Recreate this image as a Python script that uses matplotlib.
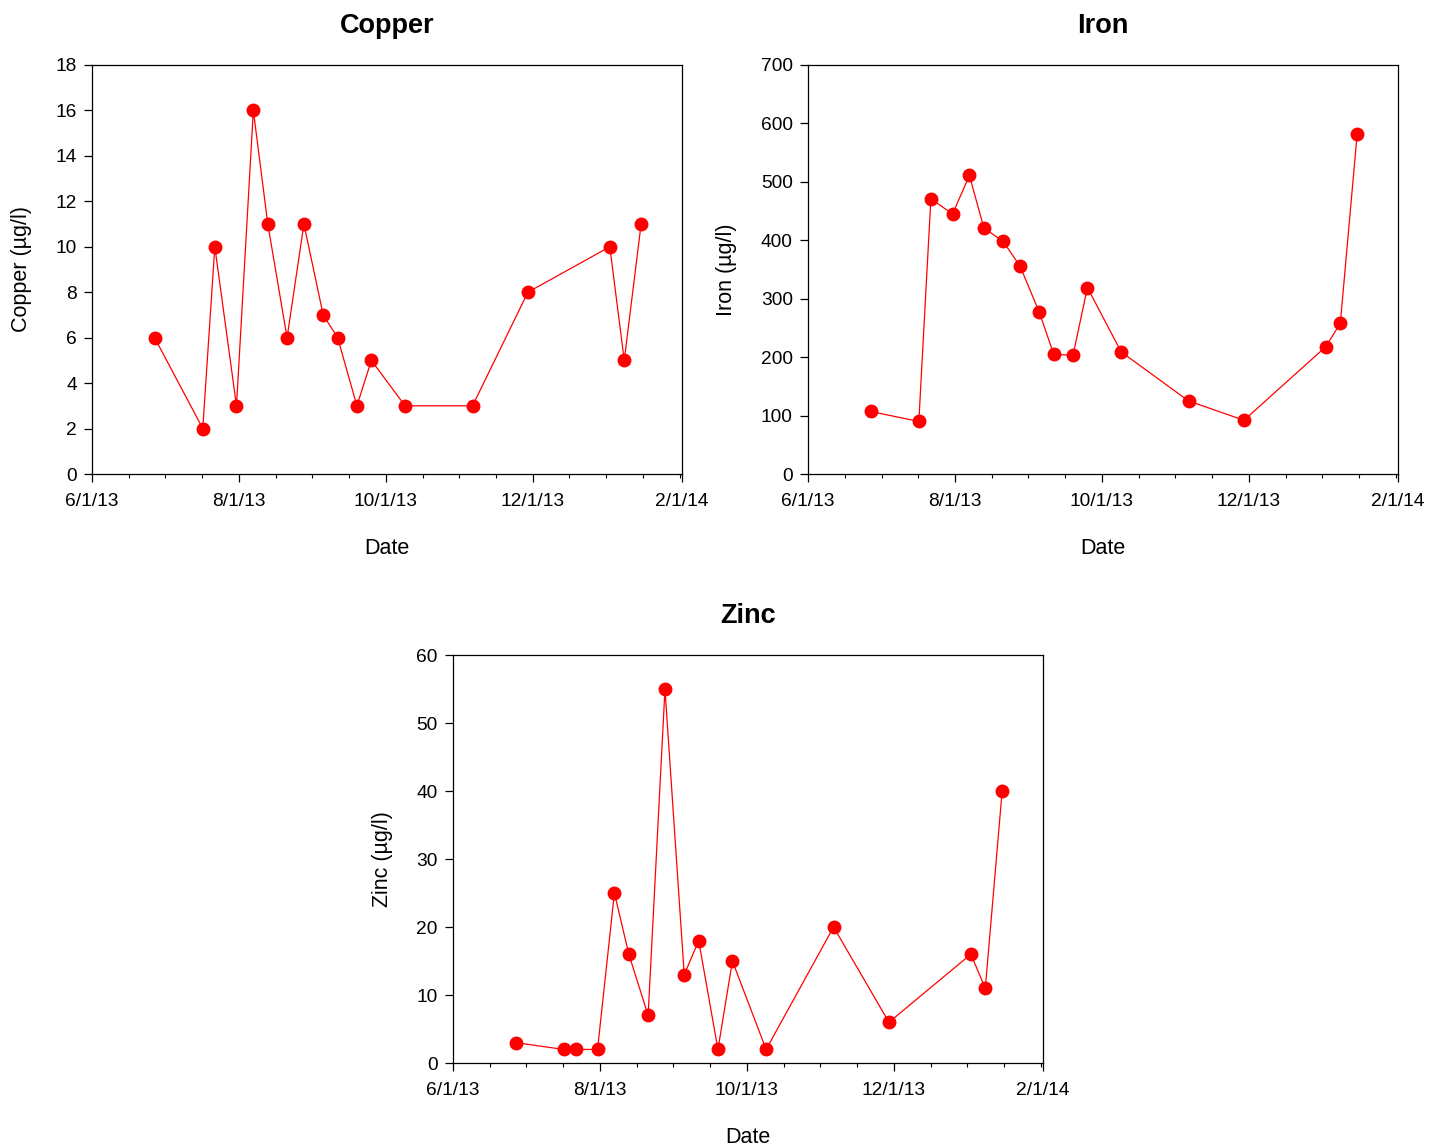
import matplotlib
matplotlib.use("Agg")
import matplotlib.pyplot as plt
import matplotlib.dates as mdates
from matplotlib.ticker import AutoMinorLocator, FuncFormatter, MultipleLocator
import datetime as dt

dates = ["2013-06-27", "2013-07-17", "2013-07-22", "2013-07-31", "2013-08-07",
         "2013-08-13", "2013-08-21", "2013-08-28", "2013-09-05", "2013-09-11",
         "2013-09-19", "2013-09-25", "2013-10-09", "2013-11-06", "2013-11-29",
         "2014-01-02", "2014-01-08", "2014-01-15"]
copper = [6, 2, 10, 3, 16, 11, 6, 11, 7, 6, 3, 5, 3, 3, 8, 10, 5, 11]
iron = [107, 90, 471, 445, 511, 421, 398, 356, 277, 205, 203, 319, 209, 125, 92, 218, 258, 582]
zinc = [3, 2, 2, 2, 25, 16, 7, 55, 13, 18, 2, 15, 2, 20, 6, 16, 11, 40]
x_ticks = ["2013-06-01", "2013-08-01", "2013-10-01", "2013-12-01", "2014-02-01"]

plt.rcParams['font.family'] = ['Liberation Sans', 'DejaVu Sans']

xd = [dt.datetime.strptime(d, "%Y-%m-%d") for d in dates]
xt = [dt.datetime.strptime(d, "%Y-%m-%d") for d in x_ticks]

fig = plt.figure(figsize=(14.35, 11.48), dpi=100)

def fmt(v, pos):
    d = mdates.num2date(v)
    return f"{d.month}/{d.day}/{d.strftime('%y')}"

def panel(rect, y, title, ylabel, ymax, ystep):
    ax = fig.add_axes(rect)
    ax.plot(xd, y, color='#ff0000', lw=0.9, marker='o', ms=9,
            markerfacecolor='#ff0000', markeredgecolor='#ff0000')
    ax.set_xlim(xt[0], xt[-1])
    ax.set_ylim(0, ymax)
    ax.set_xticks(xt)
    ax.xaxis.set_major_formatter(FuncFormatter(fmt))
    ax.xaxis.set_minor_locator(AutoMinorLocator(4))
    ax.yaxis.set_major_locator(MultipleLocator(ystep))
    ax.tick_params(axis='both', which='major', direction='out', length=6,
                   width=0.9, labelsize=13.8, top=False, right=False)
    ax.tick_params(axis='x', which='minor', direction='out', length=3, width=0.8)
    ax.tick_params(axis='x', pad=8)
    ax.tick_params(axis='y', pad=5)
    for s in ax.spines.values():
        s.set_linewidth(0.9)
    ax.set_title(title, fontsize=19.5, fontweight='bold', pad=23)
    ax.set_xlabel("Date", fontsize=15.5, labelpad=20)
    ax.set_ylabel(ylabel, fontsize=15.5, labelpad=17)
    return ax

panel([0.0641, 0.5871, 0.4112, 0.3563], copper, "Copper", "Copper (µg/l)", 18, 2)
panel([0.5631, 0.5871, 0.4112, 0.3563], iron, "Iron", "Iron (µg/l)", 700, 100)
panel([0.3157, 0.0740, 0.4112, 0.3554], zinc, "Zinc", "Zinc (µg/l)", 60, 10)

fig.savefig("out.png", dpi=100)
